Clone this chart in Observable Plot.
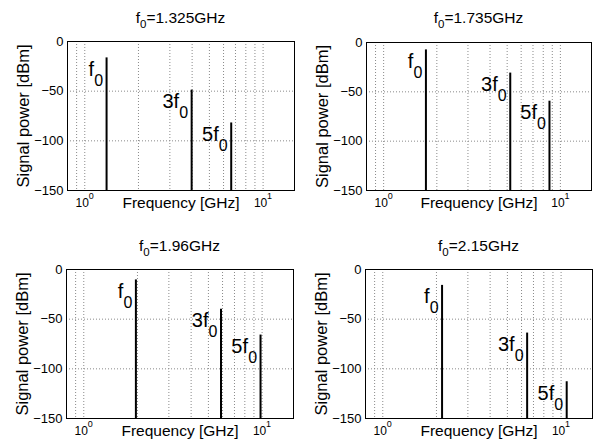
<!DOCTYPE html>
<html><head><meta charset="utf-8">
<script src="https://cdn.jsdelivr.net/npm/d3@7"></script>
<script src="https://cdn.jsdelivr.net/npm/@observablehq/plot@0.6"></script>
<style>
body{margin:0;background:#fff;}
#root{position:relative;width:596px;height:443px;background:#fff;overflow:hidden;font-family:"Liberation Sans",Arial,Helvetica,sans-serif;color:#000;}
.panel{position:absolute;}
.title{position:absolute;font-size:15.5px;line-height:15px;white-space:nowrap;transform:translateX(-50%);}
.title sub{font-size:11.5px;line-height:0;vertical-align:-5px;}
</style></head><body><div id="root"></div>
<script>
// ---- data ----
const fundamentals = [1.325, 1.735, 1.96, 2.15];          // GHz
const harmonics = [1, 3, 5];
const harmonicLabels = ["f", "3f", "5f"];
const power1 = [-16.5, -49, -82];
const power2 = [-7.5, -31, -59.5];
const power3 = [-10.5, -40, -66];
const power4 = [-16, -64, -113];
const powers = [power1, power2, power3, power4];
const titleValues = ["1.325", "1.735", "1.96", "2.15"];
const xTickValues = [1, 10];
const xTickExponents = ["0", "1"];
const xGridValues = [0.9, 1, 2, 3, 4, 5, 6, 7, 8, 9, 10];
const yTickValues = [0, -50, -100, -150];
const yGridValues = [-50, -100];

// ---- layout ----
const layout = [
  {left: 0,   top: 0,   width: 298, height: 222, mL: 67, mR: 4, mT: 41, mB: 32, tx: 180.5, ty: 10},
  {left: 298, top: 0,   width: 298, height: 222, mL: 68, mR: 5, mT: 42, mB: 32, tx: 478.5, ty: 10},
  {left: 0,   top: 222, width: 298, height: 221, mL: 66, mR: 5, mT: 47, mB: 25, tx: 179.5, ty: 238},
  {left: 298, top: 222, width: 298, height: 221, mL: 67, mR: 4, mT: 47, mB: 25, tx: 478.5, ty: 238}
];

const root = document.getElementById("root");
const gridStyle = {stroke: "#8a8a8a", strokeOpacity: 1, strokeWidth: 1, strokeDasharray: "1,2"};

fundamentals.forEach((f0, k) => {
  const L = layout[k];
  const data = harmonics.map((h, i) => ({freq: f0 * h, power: powers[k][i], label: harmonicLabels[i]}));
  const chart = Plot.plot({
    width: L.width, height: L.height,
    marginLeft: L.mL, marginRight: L.mR, marginTop: L.mT, marginBottom: L.mB,
    style: {fontFamily: '"Liberation Sans", Arial, Helvetica, sans-serif', background: "transparent", overflow: "visible", color: "#000"},
    x: {type: "log", domain: [0.8, 15], axis: null},
    y: {domain: [-150, 0], axis: null},
    marks: [
      Plot.gridX(xGridValues, gridStyle),
      Plot.gridY(yGridValues, gridStyle),
      Plot.ruleX(data, {x: "freq", y1: -150, y2: "power", stroke: "black", strokeWidth: 2}),
      Plot.frame({stroke: "black", strokeWidth: 1}),
      Plot.axisY(yTickValues, {tickSize: 0, tickPadding: 4, fontSize: 13, label: null, fill: "black",
        tickFormat: d => d === 0 ? "0" : "\u2212" + Math.abs(d)}),
      Plot.text(xTickValues, {x: d => d, frameAnchor: "bottom", text: () => "10", textAnchor: "middle",
        lineAnchor: "bottom", dx: -2.5, dy: 16, fontSize: 12, fill: "black"}),
      Plot.text(xTickValues, {x: d => d, frameAnchor: "bottom", text: (d, i) => xTickExponents[i], textAnchor: "start",
        lineAnchor: "bottom", dx: 4, dy: 8, fontSize: 9, fill: "black"}),
      Plot.text(["Frequency [GHz]"], {frameAnchor: "bottom", textAnchor: "middle", lineAnchor: "bottom", dy: 17, fontSize: 15.5, fill: "black"}),
      Plot.text(["Signal power [dBm]"], {frameAnchor: "left", textAnchor: "middle", lineAnchor: "middle", rotate: -90, dx: -44, fontSize: 16.5, fill: "black"}),
      Plot.text(data, {x: "freq", y: "power", text: "label", textAnchor: "end", lineAnchor: "bottom",
        dx: -12.5, dy: 18, fontSize: 20, fill: "black"}),
      Plot.text(data, {x: "freq", y: "power", text: () => "0", textAnchor: "end", lineAnchor: "bottom",
        dx: -3.5, dy: 28, fontSize: 16, fill: "black"})
    ]
  });
  const wrap = document.createElement("div");
  wrap.className = "panel";
  wrap.style.left = L.left + "px";
  wrap.style.top = L.top + "px";
  wrap.appendChild(chart);
  root.appendChild(wrap);

  const t = document.createElement("div");
  t.className = "title";
  t.style.left = L.tx + "px";
  t.style.top = L.ty + "px";
  t.innerHTML = "f<sub>0</sub>=" + titleValues[k] + "GHz";
  root.appendChild(t);
});
</script></body></html>
